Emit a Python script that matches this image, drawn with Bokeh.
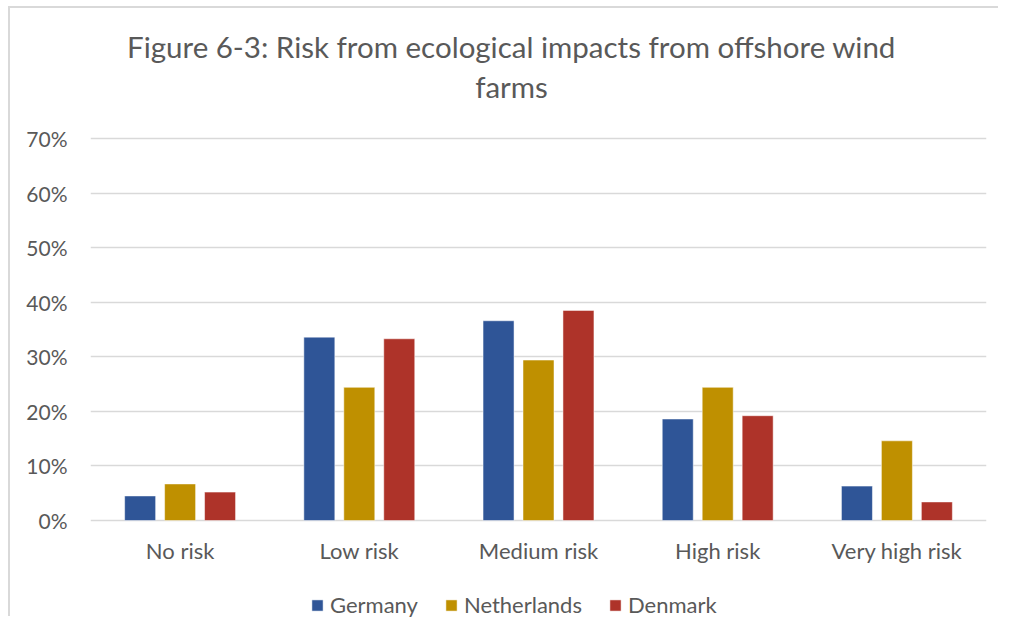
from bokeh.plotting import figure
from bokeh.models import ColumnDataSource, FactorRange, NumeralTickFormatter, FixedTicker, Legend, LegendItem, Range1d
from bokeh.core.properties import value
from bokeh.transform import dodge
from bokeh.embed import file_html
from bokeh.resources import INLINE

title_lines = ["Figure 6-3: Risk from ecological impacts from offshore wind", "farms"]
categories = ["No risk", "Low risk", "Medium risk", "High risk", "Very high risk"]
germany = [0.045, 0.336, 0.366, 0.186, 0.063]
netherlands = [0.067, 0.244, 0.294, 0.244, 0.146]
denmark = [0.052, 0.333, 0.385, 0.192, 0.034]
series_names = ["Germany", "Netherlands", "Denmark"]
y_ticks = [0, 0.1, 0.2, 0.3, 0.4, 0.5, 0.6, 0.7]

colors = ["#2F5597", "#BF9000", "#AE3329"]
FONT = "Lato"
TXT = "#595959"

source = ColumnDataSource(data=dict(cat=categories, Germany=germany, Netherlands=netherlands, Denmark=denmark))

p = figure(x_range=FactorRange(*categories), y_range=Range1d(-0.1796, 0.9382),
           width=990, height=610, output_backend="svg", toolbar_location=None,
           min_border_left=80, min_border_right=14, min_border_top=0, min_border_bottom=0)

p.styles = {"border-top": "2px solid #d9d9d9", "border-left": "2px solid #d9d9d9",
            "margin-left": "8px", "margin-top": "6px"}

offsets = [-0.223, 0.0, 0.223]
renderers = []
for name, off, col in zip(series_names, offsets, colors):
    r = p.vbar(x=dodge("cat", off, range=p.x_range), top=name, width=0.173, source=source,
               fill_color=col, line_color="white", line_width=0.5)
    renderers.append(r)

# category labels (x axis)
p.text(x=categories, y=[-0.055] * len(categories), text=categories,
       text_font=value(FONT), text_font_size="22px", text_color=TXT,
       text_align="center", text_baseline="middle")

# title lines
p.text(x=["Medium risk"], y=[0.8686], text=[title_lines[0]], x_offset=-27,
       text_font=value(FONT), text_font_size="29.5px", text_color=TXT,
       text_align="center", text_baseline="middle")
p.text(x=["Medium risk"], y=[0.7953], text=[title_lines[1]], x_offset=-27,
       text_font=value(FONT), text_font_size="29.5px", text_color=TXT,
       text_align="center", text_baseline="middle")

p.outline_line_color = None
p.xgrid.grid_line_color = None
p.ygrid.grid_line_color = "#d9d9d9"
p.ygrid.grid_line_width = 1.5
p.ygrid.ticker = FixedTicker(ticks=y_ticks)

p.xaxis.visible = False

p.yaxis.ticker = FixedTicker(ticks=y_ticks)
p.yaxis.formatter = NumeralTickFormatter(format="0%")
p.yaxis.axis_line_color = None
p.yaxis.major_tick_line_color = None
p.yaxis.minor_tick_line_color = None
p.yaxis.major_tick_out = 0
p.yaxis.major_tick_in = 0
p.yaxis.major_label_standoff = 23
p.yaxis.major_label_text_font = FONT
p.yaxis.major_label_text_font_size = "21px"
p.yaxis.major_label_text_color = TXT

legend = Legend(items=[LegendItem(label=n, renderers=[r]) for n, r in zip(series_names, renderers)],
                orientation="horizontal", location=(220, 0))
legend.label_text_font = FONT
legend.label_text_font_size = "22px"
legend.label_text_color = TXT
legend.glyph_width = 14
legend.glyph_height = 14
legend.label_standoff = 6
legend.spacing = 26
legend.padding = 0
legend.margin = 0
legend.border_line_color = None
legend.background_fill_alpha = 0
p.add_layout(legend)

open("out.html", "w").write(file_html(p, INLINE))
